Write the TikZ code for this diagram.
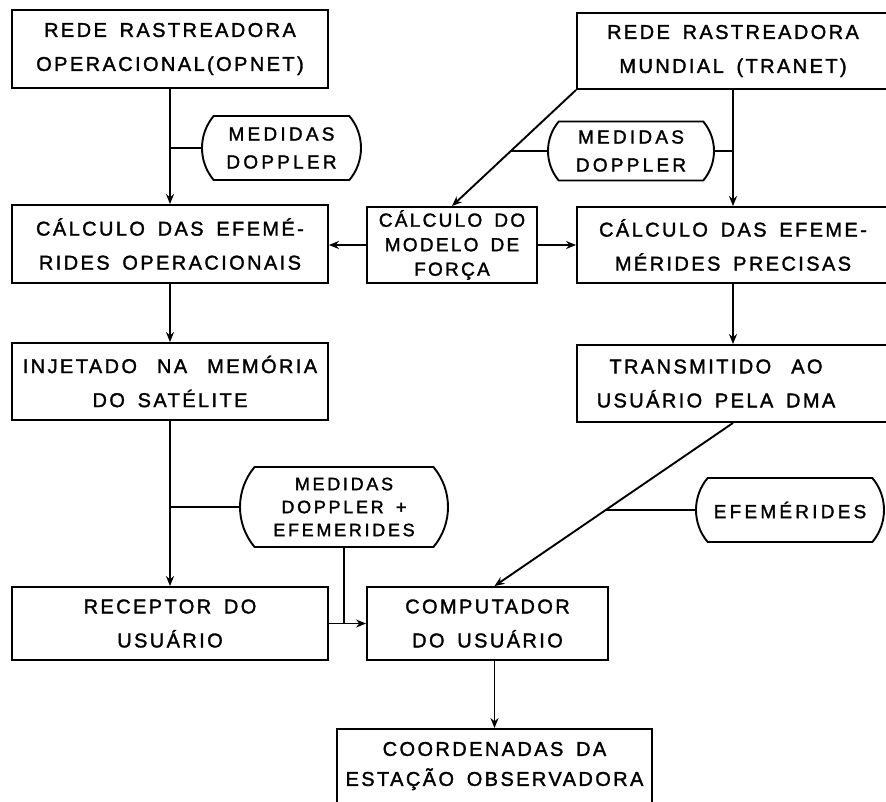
\documentclass[tikz,border=0pt]{standalone}
\usepackage{fontspec}
\setmainfont{Liberation Sans}[LetterSpace=12, WordSpace=1.6, FakeBold=1.6]
\usetikzlibrary{shapes.misc,arrows.meta}
\begin{document}
\begin{tikzpicture}[x=1pt,y=-1pt,
  box/.style={draw, line width=1.9pt, rectangle, inner sep=0pt, align=center, font=\fontsize{20}{34}\selectfont},
  txt/.style={inner sep=0pt, align=center, font=\fontsize{20}{34}\selectfont},
  pill/.style={draw, line width=1.9pt, rounded rectangle, rounded rectangle arc length=80, inner sep=0pt, align=center, font=\fontsize{19}{28}\selectfont\addfontfeatures{LetterSpace=17}},
  arr/.style={line width=1.9pt, -{Stealth[length=10pt,width=8pt]}},
  ln/.style={line width=1.9pt}]
\useasboundingbox (0,0) rectangle (886,801);

\node[box, minimum width=316pt, minimum height=78pt] (op) at (170,49) {REDE RASTREADORA\\OPERACIONAL(OPNET)};
\node[box, minimum width=312pt, minimum height=76pt] (tr) at (733,51) {REDE RASTREADORA\\MUNDIAL (TRANET)};
\node[pill, minimum width=159pt, minimum height=64pt] (p1) at (281.5,148) {MEDIDAS\\DOPPLER};
\node[pill, minimum width=166pt, minimum height=59pt] (p2) at (631,151) {MEDIDAS\\DOPPLER};
\node[box, minimum width=316pt, minimum height=78pt] (ce) at (170,244) {CÁLCULO DAS EFEMÉ-\\RIDES OPERACIONAIS};
\node[box, font=\fontsize{19}{24.5}\selectfont, minimum width=170pt, minimum height=76pt] (mf) at (452,245) {CÁLCULO DO\\MODELO DE\\FORÇA};
\node[box, minimum width=312pt, minimum height=76pt] (cp) at (733,245) {CÁLCULO DAS EFEME-\\MÉRIDES PRECISAS};
\node[box, minimum width=316pt, minimum height=77pt] (inj) at (170,381.5) {INJETADO\quad NA\quad MEMÓRIA\\DO SATÉLITE};
\node[box, minimum width=312pt, minimum height=77pt] (tm) at (733,383.5) {};
\node[txt] (tmt) at (716,383.5) {TRANSMITIDO\quad AO\\USUÁRIO PELA DMA};
\node[pill, font=\fontsize{18}{23}\selectfont\addfontfeatures{LetterSpace=15}, minimum width=208pt, minimum height=80pt] (p3) at (344,507) {MEDIDAS\\DOPPLER +\\EFEMERIDES};
\node[pill, minimum width=188pt, minimum height=64pt] (p4) at (790,510) {EFEMÉRIDES};
\node[box, minimum width=316pt, minimum height=73pt] (rc) at (170,623.5) {RECEPTOR DO\\USUÁRIO};
\node[box, minimum width=241pt, minimum height=73pt] (cu) at (487.5,623.5) {COMPUTADOR\\DO USUÁRIO};
\node[box, font=\fontsize{20}{30}\selectfont, minimum width=315pt, minimum height=74pt] (co) at (494.5,766) {COORDENADAS DA\\ESTAÇÃO OBSERVADORA};

\draw[arr] (op) -- (ce);
\draw[ln] (p1.west) -- (p1.west -| op.south);
\draw[arr] (tr.south) -- (cp.north);
\draw[ln] (p2.east) -- (p2.east -| tr.south);
\draw[arr] (tr.south west) -- (mf.north);
\draw[ln] (p2.west) -- (intersection of tr.south west--mf.north and p2.west--p2.east);
\draw[arr] (mf.west) -- (mf.west -| ce.east);
\draw[arr] (mf.east) -- (mf.east -| cp.west);
\draw[arr] (ce) -- (inj);
\draw[arr] (cp) -- (tm);
\draw[arr] (inj) -- (rc);
\draw[ln] (p3.west) -- (p3.west -| inj.south);
\draw[ln] (p3.south) -- (p3.south |- rc.east);
\draw[arr] (rc.east) -- (cu.west);
\coordinate (cin) at (cu.north -| co.north);
\draw[arr] (tm.south) -- (cin);
\draw[ln] (p4.west) -- (intersection of tm.south--cin and p4.west--p4.east);
\draw[arr] (cu.south -| co.north) -- (co.north);
\end{tikzpicture}
\end{document}
